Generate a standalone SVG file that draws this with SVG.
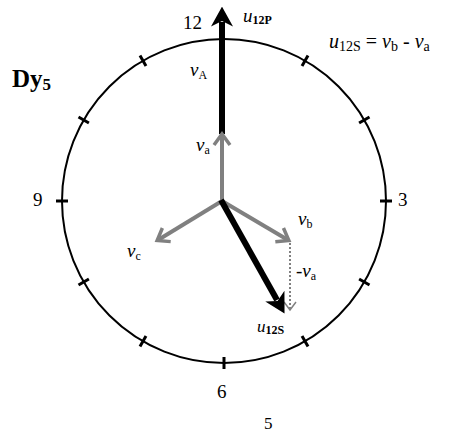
<svg xmlns="http://www.w3.org/2000/svg" width="462" height="434" viewBox="0 0 462 434">
<style>
text{font-family:"Liberation Serif","Times New Roman",serif;fill:#000}
.num{font-size:19px}
.it{font-style:italic}
.tick{stroke:#000;stroke-width:3}
.gray{stroke:#808080;stroke-width:4;fill:none}
.blk{stroke:#000;stroke-width:6;fill:none}
</style>
<defs>
<marker id="hb" markerUnits="userSpaceOnUse" markerWidth="20" markerHeight="22" viewBox="0 0 18 20" refX="4" refY="10" orient="auto">
<path d="M0,0 L18,10 L0,20 L5,10 Z" fill="#000"/>
</marker>
<marker id="hg" markerUnits="userSpaceOnUse" markerWidth="16" markerHeight="20" viewBox="0 0 16 20" refX="12" refY="10" orient="auto">
<path d="M2,2 L13,10 L2,18" fill="none" stroke="#808080" stroke-width="3.5"/>
</marker>
<marker id="hd" markerUnits="userSpaceOnUse" markerWidth="12" markerHeight="14" viewBox="0 0 12 14" refX="9" refY="7" orient="auto">
<path d="M1,1 L9,7 L1,13" fill="none" stroke="#808080" stroke-width="1.5"/>
</marker>
</defs>
<g id="clock">
<circle cx="224" cy="201" r="162" fill="none" stroke="#000" stroke-width="2"/>
<g transform="translate(224,201)">
<line class="tick" x1="0" y1="-156" x2="0" y2="-168" transform="rotate(30)"/>
<line class="tick" x1="0" y1="-156" x2="0" y2="-168" transform="rotate(60)"/>
<line class="tick" x1="0" y1="-156" x2="0" y2="-168" transform="rotate(90)"/>
<line class="tick" x1="0" y1="-156" x2="0" y2="-168" transform="rotate(120)"/>
<line class="tick" x1="0" y1="-156" x2="0" y2="-168" transform="rotate(150)"/>
<line class="tick" x1="0" y1="-156" x2="0" y2="-168" transform="rotate(180)"/>
<line class="tick" x1="0" y1="-156" x2="0" y2="-168" transform="rotate(210)"/>
<line class="tick" x1="0" y1="-156" x2="0" y2="-168" transform="rotate(240)"/>
<line class="tick" x1="0" y1="-156" x2="0" y2="-168" transform="rotate(270)"/>
<line class="tick" x1="0" y1="-156" x2="0" y2="-168" transform="rotate(300)"/>
<line class="tick" x1="0" y1="-156" x2="0" y2="-168" transform="rotate(330)"/>
</g>
<text class="num" x="183" y="29" font-family="Liberation Serif, serif">12</text>
<text class="num" x="33" y="206" font-family="Liberation Serif, serif">9</text>
<text class="num" x="398" y="206" font-family="Liberation Serif, serif">3</text>
<text class="num" x="217" y="398" font-family="Liberation Serif, serif">6</text>
<text x="264" y="429" font-size="17" font-family="Liberation Serif, serif">5</text>
</g>
<g id="title">
<text x="12" y="87" font-size="25" font-weight="bold" font-family="Liberation Serif, serif">Dy<tspan font-size="17" dy="3">5</tspan></text>
</g>
<g id="equation">
<text x="329" y="48" font-size="20" font-family="Liberation Serif, serif"><tspan class="it">u</tspan><tspan font-size="14" dy="3">12S</tspan><tspan dy="-3"> = </tspan><tspan class="it">v</tspan><tspan font-size="14" dy="3">b</tspan><tspan dy="-3"> - </tspan><tspan class="it">v</tspan><tspan font-size="14" dy="3">a</tspan></text>
</g>
<g id="connectors">
<line class="blk" x1="222" y1="134" x2="222" y2="22" marker-end="url(#hb)"/>
<line class="gray" x1="222" y1="201" x2="222" y2="135" marker-end="url(#hg)"/>
<line class="gray" x1="222" y1="201" x2="288" y2="240" marker-end="url(#hg)"/>
<line class="gray" x1="222" y1="201" x2="158" y2="240" marker-end="url(#hg)"/>
<line x1="290" y1="243" x2="290" y2="310" stroke="#808080" stroke-width="2" stroke-dasharray="2,2" marker-end="url(#hd)"/>
<line class="blk" x1="221" y1="200" x2="277" y2="300" marker-end="url(#hb)"/>
</g>
<g id="labels">
<text x="243" y="22" font-size="19" font-family="Liberation Serif, serif"><tspan class="it">u</tspan><tspan font-size="12" font-weight="bold" dy="2">12P</tspan></text>
<text x="190" y="76" font-size="19" font-family="Liberation Serif, serif"><tspan class="it">v</tspan><tspan font-size="12" dy="3">A</tspan></text>
<text x="196" y="151" font-size="19" font-family="Liberation Serif, serif"><tspan class="it">v</tspan><tspan font-size="12" dy="3">a</tspan></text>
<text x="298" y="225" font-size="19" font-family="Liberation Serif, serif"><tspan class="it">v</tspan><tspan font-size="12" dy="3">b</tspan></text>
<text x="127" y="257" font-size="19" font-family="Liberation Serif, serif"><tspan class="it">v</tspan><tspan font-size="12" dy="3">c</tspan></text>
<text x="296" y="277" font-size="19" font-family="Liberation Serif, serif">-<tspan class="it">v</tspan><tspan font-size="12" dy="3">a</tspan></text>
<text x="257" y="332" font-size="17" font-family="Liberation Serif, serif"><tspan class="it">u</tspan><tspan font-size="12" font-weight="bold" dy="2">12S</tspan></text>
</g>
</svg>
